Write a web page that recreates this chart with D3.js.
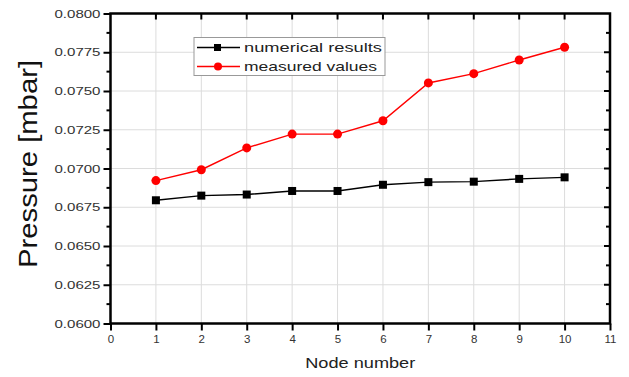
<!DOCTYPE html>
<html><head><meta charset="utf-8">
<script src="https://cdn.jsdelivr.net/npm/d3@7/dist/d3.min.js"></script>
<style>body{margin:0;background:#fff;} text{font-family:"Liberation Sans",Arial,sans-serif;}</style>
</head><body><svg id="c" width="629" height="377"></svg>
<script>
const nodes = [1,2,3,4,5,6,7,8,9,10];
const numerical = [0.06795,0.06825,0.06832,0.06855,0.06855,0.06895,0.06912,0.06915,0.06933,0.06943];
const measured = [0.06922,0.06992,0.07133,0.07222,0.07222,0.07308,0.07552,0.07612,0.07700,0.07782];
const xTicks = [0,1,2,3,4,5,6,7,8,9,10,11];
const yTicks = [0.0600,0.0625,0.0650,0.0675,0.0700,0.0725,0.0750,0.0775,0.0800];
const yMinor = [0.06125,0.06375,0.06625,0.06875,0.07125,0.07375,0.07625,0.07875];
const seriesNames = ["numerical results","measured values"];
const colors = ["#000000","#ff0000"];

const svg = d3.select("#c");
const L=110.5,R=610,T=13.5,B=323.5;
const x = d3.scaleLinear().domain([0,11]).range([L,R]);
const y = d3.scaleLinear().domain([0.06,0.08]).range([B,T]);

// grid
svg.append("g").selectAll("line").data(xTicks.slice(1,-1)).join("line")
  .attr("x1",d=>x(d)).attr("x2",d=>x(d)).attr("y1",T).attr("y2",B)
  .attr("stroke","#dcdcdc").attr("stroke-width",1);
svg.append("g").selectAll("line").data(yTicks.slice(1,-1)).join("line")
  .attr("y1",d=>y(d)).attr("y2",d=>y(d)).attr("x1",L).attr("x2",R)
  .attr("stroke","#dcdcdc").attr("stroke-width",1);

// axes
const fmt = d3.format(".4f");
const gl = svg.append("g").attr("transform",`translate(${L},0)`)
  .call(d3.axisLeft(y).tickValues(yTicks).tickFormat(fmt).tickSize(7).tickPadding(3));
const gb = svg.append("g").attr("transform",`translate(0,${B})`)
  .call(d3.axisBottom(x).tickValues(xTicks).tickFormat(d3.format("d")).tickSize(7).tickPadding(4));
[gl,gb].forEach(g=>{
  g.select(".domain").remove();
  g.selectAll("line").attr("stroke","#000").attr("stroke-width",2);
  g.selectAll("text").attr("font-size",11.5).attr("fill","#333");
});
gl.selectAll("text").attr("textLength",46).attr("lengthAdjust","spacingAndGlyphs");
// minor left ticks
svg.append("g").selectAll("line").data(yMinor).join("line")
  .attr("x1",L-4).attr("x2",L).attr("y1",d=>y(d)).attr("y2",d=>y(d))
  .attr("stroke","#000").attr("stroke-width",2);
// top ticks inward
svg.append("g").selectAll("line").data(xTicks.slice(1,-1)).join("line")
  .attr("x1",d=>x(d)).attr("x2",d=>x(d)).attr("y1",T).attr("y2",T+6)
  .attr("stroke","#000").attr("stroke-width",2);
// right ticks inward
svg.append("g").selectAll("line").data(yTicks.slice(1,-1)).join("line")
  .attr("x1",R-6).attr("x2",R).attr("y1",d=>y(d)).attr("y2",d=>y(d))
  .attr("stroke","#000").attr("stroke-width",2);
svg.append("g").selectAll("line").data(yMinor).join("line")
  .attr("x1",R-4).attr("x2",R).attr("y1",d=>y(d)).attr("y2",d=>y(d))
  .attr("stroke","#000").attr("stroke-width",2);
// frame
svg.append("rect").attr("x",L).attr("y",T).attr("width",R-L).attr("height",B-T)
  .attr("fill","none").attr("stroke","#000").attr("stroke-width",2.5);

// series
const line = d3.line().x((d,i)=>x(nodes[i])).y(d=>y(d));
[numerical,measured].forEach((vals,k)=>{
  svg.append("path").datum(vals).attr("d",line).attr("fill","none")
    .attr("stroke",colors[k]).attr("stroke-width",1.4);
  const g = svg.append("g");
  if(k===0){
    g.selectAll("rect").data(vals).join("rect")
      .attr("x",(d,i)=>x(nodes[i])-4).attr("y",d=>y(d)-4).attr("width",8).attr("height",8)
      .attr("fill",colors[k]);
  } else {
    g.selectAll("circle").data(vals).join("circle")
      .attr("cx",(d,i)=>x(nodes[i])).attr("cy",d=>y(d)).attr("r",4.5).attr("fill",colors[k]);
  }
});

// legend
const lg = svg.append("g");
lg.append("rect").attr("x",194).attr("y",37.5).attr("width",191).attr("height",38)
  .attr("fill","#fff").attr("stroke","#999").attr("stroke-width",1);
const legLen = [138,133];
seriesNames.forEach((n,k)=>{
  const yy = 47.5 + k*19;
  lg.append("line").attr("x1",197).attr("x2",240).attr("y1",yy).attr("y2",yy)
    .attr("stroke",colors[k]).attr("stroke-width",1.5);
  if(k===0) lg.append("rect").attr("x",214).attr("y",yy-3.5).attr("width",7).attr("height",7).attr("fill",colors[k]);
  else lg.append("circle").attr("cx",218).attr("cy",yy).attr("r",4).attr("fill",colors[k]);
  lg.append("text").attr("x",244).attr("y",yy+4.5).attr("font-size",13.5).attr("fill","#222")
    .attr("textLength",legLen[k]).attr("lengthAdjust","spacingAndGlyphs").text(n);
});

// axis titles
svg.append("text").attr("x",(L+R)/2).attr("y",368).attr("text-anchor","middle")
  .attr("font-size",15.5).attr("fill","#222")
  .attr("textLength",110).attr("lengthAdjust","spacingAndGlyphs").text("Node number");
svg.append("text").attr("transform",`translate(37,164) rotate(-90)`)
  .attr("text-anchor","middle").attr("font-size",26).attr("fill","#111")
  .attr("textLength",208).attr("lengthAdjust","spacingAndGlyphs").text("Pressure [mbar]");
</script></body></html>
